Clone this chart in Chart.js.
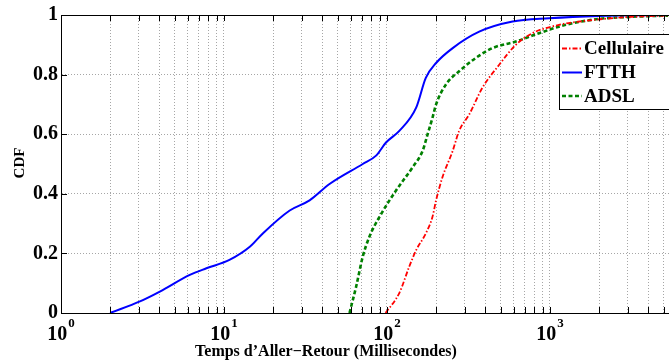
<!DOCTYPE html>
<html><head><meta charset="utf-8">
<script src="https://cdn.jsdelivr.net/npm/chart.js@4"></script>
<style>html,body{margin:0;padding:0;background:#fff;}canvas{display:block;}</style>
</head><body>
<canvas id="c" width="669" height="362"></canvas>
<script>
// ---- data ----
const seriesNames = ['Cellulaire', 'FTTH', 'ADSL'];

const cellX = [98, 119, 137, 151, 173, 190, 200, 219, 253, 277, 320, 385, 488, 617, 780, 1136, 1820, 3184, 5300];
const cellY = [0, 0.067, 0.156, 0.211, 0.267, 0.322, 0.378, 0.456, 0.544, 0.611, 0.667, 0.756, 0.833, 0.9, 0.939, 0.967, 0.983, 0.994, 0.998];

const ftthX = [2.0, 3.05, 4.04, 6.17, 7.8, 10.8, 14.4, 17.3, 25.3, 33.5, 44.4, 71, 85.7, 98.6, 119, 151, 173, 200, 253, 368, 589, 987, 2000, 5300];
const ftthY = [0, 0.039, 0.072, 0.128, 0.15, 0.178, 0.222, 0.267, 0.344, 0.378, 0.433, 0.5, 0.528, 0.572, 0.611, 0.689, 0.789, 0.839, 0.889, 0.944, 0.978, 0.989, 0.997, 1.0];

const adslX = [58.9, 64.7, 71, 78, 89.8, 113.6, 143.6, 165.4, 177.5, 190.4, 200, 230, 277, 351, 444, 617, 857, 1249, 2000, 3184, 5300];
const adslY = [0, 0.089, 0.189, 0.256, 0.322, 0.411, 0.489, 0.544, 0.6, 0.656, 0.7, 0.767, 0.811, 0.856, 0.889, 0.911, 0.939, 0.967, 0.987, 0.994, 0.998];

const xMajorTicks = [1, 10, 100, 1000];
const xMajorExponents = ['0', '1', '2', '3'];
const xMinorTicks = [2, 3, 4, 5, 6, 7, 8, 9, 20, 30, 40, 50, 60, 70, 80, 90, 200, 300, 400, 500, 600, 700, 800, 900, 2000, 3000, 4000, 5000];
const yTicks = [0, 0.2, 0.4, 0.6, 0.8, 1];
const yTickLabels = ['0', '0.2', '0.4', '0.6', '0.8', '1'];
const xTitle = 'Temps d\u2019Aller\u2212Retour (Millisecondes)';
const yTitle = 'CDF';
const xMin = 1, xMax = 5372;

// ---- chart ----
const FONT = '"Liberation Serif", "Times New Roman", Times, serif';
const pts = (xs, ys) => xs.map((x, i) => ({x: x, y: ys[i]}));
const allXTicks = xMajorTicks.concat(xMinorTicks).sort((a, b) => a - b);

const decor = {
  id: 'decor',
  afterDatasetsDraw(chart) {
    const ctx = chart.ctx, a = chart.chartArea;
    const xs = chart.scales.x, ys = chart.scales.y;
    ctx.save();
    // frame
    ctx.strokeStyle = '#000'; ctx.lineWidth = 1;
    ctx.beginPath();
    ctx.moveTo(a.left, a.top + 0.5); ctx.lineTo(a.right, a.top + 0.5);
    ctx.stroke();
    // inward tick marks
    ctx.beginPath();
    allXTicks.forEach(v => {
      const px = Math.round(xs.getPixelForValue(v)) + 0.5;
      ctx.moveTo(px, a.bottom); ctx.lineTo(px, a.bottom - 6);
      ctx.moveTo(px, a.top); ctx.lineTo(px, a.top + 6);
    });
    yTicks.forEach(v => {
      const py = Math.round(ys.getPixelForValue(v)) + 0.5;
      ctx.moveTo(a.left, py); ctx.lineTo(a.left + 6, py);
    });
    ctx.stroke();

    // x tick labels with superscripts
    ctx.fillStyle = '#000';
    ctx.textBaseline = 'alphabetic';
    xMajorTicks.forEach((v, i) => {
      const px = xs.getPixelForValue(v);
      ctx.font = 'bold 20px ' + FONT;
      const wb = ctx.measureText('10').width;
      ctx.font = 'bold 13px ' + FONT;
      const we = ctx.measureText(xMajorExponents[i]).width;
      const start = px - (wb + we + 1) / 2;
      ctx.font = 'bold 20px ' + FONT;
      ctx.textAlign = 'left';
      ctx.fillText('10', start, 340);
      ctx.font = 'bold 13px ' + FONT;
      ctx.fillText(xMajorExponents[i], start + wb + 1, 327);
    });

    // axis titles
    ctx.font = 'bold 16px ' + FONT;
    ctx.textAlign = 'center';
    ctx.textBaseline = 'middle';
    ctx.fillText(xTitle, 326, 352);
    ctx.save();
    ctx.translate(20, 163);
    ctx.rotate(-Math.PI / 2);
    ctx.font = 'bold 15px ' + FONT;
    ctx.fillText(yTitle, 0, 0);
    ctx.restore();

    // legend
    const lx = 559.5, ly = 34.5, lw = 130, lh = 75;
    ctx.fillStyle = '#fff';
    ctx.fillRect(lx, ly, lw, lh);
    ctx.strokeStyle = '#000'; ctx.lineWidth = 1;
    ctx.strokeRect(lx, ly, lw, lh);
    const rows = [48.5, 72.5, 96];
    chart.data.datasets.forEach((ds, i) => {
      ctx.save();
      ctx.strokeStyle = ds.borderColor;
      ctx.lineWidth = ds.borderWidth;
      ctx.setLineDash(ds.borderDash || []);
      ctx.beginPath();
      ctx.moveTo(562, rows[i]); ctx.lineTo(582, rows[i]);
      ctx.stroke();
      ctx.restore();
      ctx.fillStyle = '#000';
      ctx.font = 'bold 19px ' + FONT;
      ctx.textAlign = 'left';
      ctx.textBaseline = 'middle';
      ctx.fillText(ds.label, 584, rows[i] + 1);
    });
    ctx.restore();
  }
};

new Chart(document.getElementById('c'), {
  type: 'line',
  data: {
    datasets: [
      {label: seriesNames[0], data: pts(cellX, cellY), borderColor: '#ff0000', borderWidth: 1.8, borderDash: [5, 2, 1.5, 2], pointRadius: 0, fill: false, cubicInterpolationMode: 'monotone'},
      {label: seriesNames[1], data: pts(ftthX, ftthY), borderColor: '#0000ff', borderWidth: 2, pointRadius: 0, fill: false, cubicInterpolationMode: 'monotone'},
      {label: seriesNames[2], data: pts(adslX, adslY), borderColor: '#008000', borderWidth: 2.6, borderDash: [4, 2.5], pointRadius: 0, fill: false, cubicInterpolationMode: 'monotone'}
    ]
  },
  options: {
    responsive: false,
    animation: false,
    events: [],
    layout: {padding: {top: 13, right: 0, left: 0, bottom: 0}},
    plugins: {legend: {display: false}, tooltip: {enabled: false}},
    scales: {
      x: {
        type: 'logarithmic', min: xMin, max: xMax,
        afterBuildTicks: s => { s.ticks = allXTicks.map(v => ({value: v})); },
        afterFit: s => { s.height = 49; },
        ticks: {display: false},
        grid: {color: 'rgba(0,0,0,0.35)', lineWidth: 1, drawTicks: false},
        border: {display: true, color: '#000', width: 1, dash: [1, 2]}
      },
      y: {
        type: 'linear', min: 0, max: 1,
        afterBuildTicks: s => { s.ticks = yTicks.map(v => ({value: v})); },
        afterFit: s => { s.width = 61; },
        ticks: {color: '#000', padding: 3, font: {family: FONT, size: 20, weight: 'bold'}, callback: (v, i) => yTickLabels[i]},
        grid: {color: 'rgba(0,0,0,0.35)', lineWidth: 1, drawTicks: false},
        border: {display: true, color: '#000', width: 1, dash: [1, 2]}
      }
    }
  },
  plugins: [decor]
});
</script>
</body></html>
